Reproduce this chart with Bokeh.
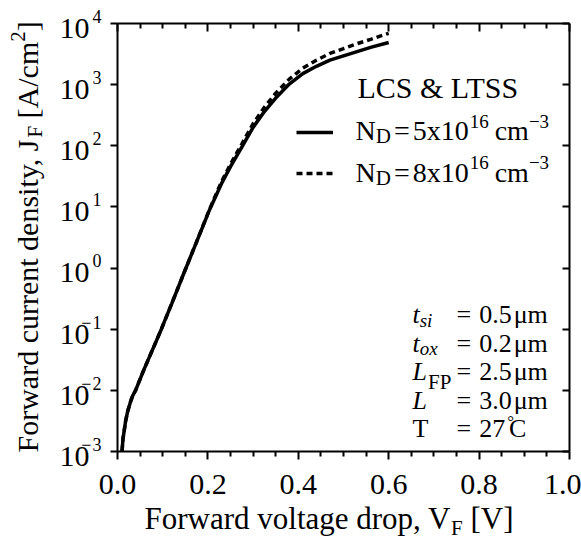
import math

from bokeh.embed import file_html
from bokeh.models import (CustomJSTickFormatter, FixedTicker, Label, Legend,
                          LegendItem, LinearAxis, LogAxis, NumeralTickFormatter,
                          Range1d)
from bokeh.plotting import figure
from bokeh.resources import INLINE

# Forward J-V characteristics, N_D = 5x10^16 cm^-3 (solid)
VF_5E16 = [0.010, 0.012, 0.018, 0.023, 0.029, 0.034, 0.040, 0.058, 0.080, 0.097,
           0.120, 0.147, 0.175, 0.204, 0.230, 0.250, 0.275, 0.300, 0.325, 0.350,
           0.380, 0.410, 0.440, 0.470, 0.500, 0.530, 0.560, 0.600]
JF_5E16 = [1.0e-3, 1.58e-3, 3.16e-3, 4.7e-3, 6.6e-3, 8.3e-3, 1.0e-2, 2.14e-2, 5.1e-2, 1.0e-1,
           2.63e-1, 8.3e-1, 2.69, 9.1, 24.0, 45.7, 95.5, 200.0, 363.0, 603.0,
           1023.0, 1514.0, 1995.0, 2512.0, 2951.0, 3467.0, 4074.0, 4898.0]

# Forward J-V characteristics, N_D = 8x10^16 cm^-3 (dotted)
VF_8E16 = [0.010, 0.012, 0.018, 0.023, 0.029, 0.034, 0.040, 0.058, 0.080, 0.097,
           0.120, 0.147, 0.175, 0.204, 0.230, 0.250, 0.275, 0.300, 0.325, 0.350,
           0.380, 0.410, 0.440, 0.470, 0.500, 0.530, 0.560, 0.600]
JF_8E16 = [1.0e-3, 1.58e-3, 3.16e-3, 4.7e-3, 6.6e-3, 8.3e-3, 1.0e-2, 2.14e-2, 5.1e-2, 1.0e-1,
           2.63e-1, 8.3e-1, 2.69, 9.3, 25.7, 50.1, 107.0, 229.0, 427.0, 724.0,
           1230.0, 1862.0, 2512.0, 3236.0, 3890.0, 4677.0, 5495.0, 6918.0]

X_TICKS = [0.0, 0.2, 0.4, 0.6, 0.8, 1.0]
X_MINOR = [0.05, 0.10, 0.15, 0.25, 0.30, 0.35, 0.45, 0.50, 0.55,
           0.65, 0.70, 0.75, 0.85, 0.90, 0.95]
Y_EXPONENTS = [-3, -2, -1, 0, 1, 2, 3, 4]
X_LIM = (0.0, 1.0)
Y_LIM = (1e-3, 1e4)

W, H = 581, 540
# pixel box of the axes inside the canvas
BOX_L, BOX_R, BOX_T, BOX_B = 117, 569, 23, 451
FONT = "Liberation Serif"
# labels are anchored a bit below the requested baseline; lift them by this
# fraction of their font size
BASELINE_LIFT = 0.34

# The canvas is one big frame; the axes sit at fixed locations around the
# data box, so every text (titles, power-of-ten labels) can live anywhere.
x_per_px = (X_LIM[1] - X_LIM[0]) / (BOX_R - BOX_L)
dec_per_px = (math.log10(Y_LIM[1]) - math.log10(Y_LIM[0])) / (BOX_B - BOX_T)
x_range = Range1d(X_LIM[0] - BOX_L * x_per_px, X_LIM[1] + (W - BOX_R) * x_per_px)
y_range = Range1d(10 ** (math.log10(Y_LIM[0]) - (H - BOX_B) * dec_per_px),
                  10 ** (math.log10(Y_LIM[1]) + BOX_T * dec_per_px))

# Advance widths (1/1000 em) of the Times-metric serif face, used to chain
# text runs with sub- and superscripts.
ADV = {' ': 250, '&': 778, ',': 250, '.': 250, '/': 278, '=': 564, '[': 333,
       ']': 333, '\u2212': 564, '\u00b0': 400, '\u03bc': 576,
       'A': 722, 'C': 667, 'D': 722, 'F': 556, 'J': 389, 'L': 611, 'N': 722,
       'P': 556, 'S': 556, 'T': 611, 'V': 722,
       'a': 444, 'c': 444, 'd': 500, 'e': 444, 'g': 500, 'i': 278, 'l': 278,
       'm': 778, 'n': 500, 'o': 500, 'p': 500, 'r': 333, 's': 389, 't': 278,
       'u': 500, 'v': 500, 'w': 722, 'x': 500, 'y': 500}
ADV_ITALIC = {'t': 278, 's': 389, 'i': 278, 'o': 500, 'x': 444, 'L': 556}


def text_width(text, size, italic=False):
    table = ADV_ITALIC if italic else ADV
    total = 0
    for ch in text:
        if ch.isdigit():
            total += 500
        else:
            total += table.get(ch, ADV.get(ch, 500))
    return total * size / 1000.0


p = figure(width=W, height=H, x_range=x_range, y_range=y_range,
           y_axis_type="log", output_backend="svg", toolbar_location=None,
           title_location=None, min_border=0)
p.outline_line_color = None
p.xgrid.visible = False
p.ygrid.visible = False
p.background_fill_color = "white"
p.border_fill_color = "white"

x_ticker = FixedTicker(ticks=X_TICKS, minor_ticks=X_MINOR)
y_ticker = FixedTicker(ticks=[10.0 ** e for e in Y_EXPONENTS], minor_ticks=[])
blank = CustomJSTickFormatter(code="return ''")


def style_axis(ax):
    ax.axis_line_width = 2
    ax.axis_line_color = "black"
    ax.major_tick_line_width = 2
    ax.major_tick_line_color = "black"
    ax.minor_tick_line_width = 2
    ax.minor_tick_line_color = "black"


# bottom axis with numeric labels
xb = p.xaxis[0]
xb.ticker = x_ticker
xb.fixed_location = Y_LIM[0]
xb.bounds = X_LIM
xb.formatter = NumeralTickFormatter(format="0.0")
style_axis(xb)
xb.major_tick_out, xb.major_tick_in = 8, 0
xb.minor_tick_out, xb.minor_tick_in = 5, 0
xb.major_label_text_font = FONT
xb.major_label_text_font_size = "30px"
xb.major_label_text_color = "black"
xb.major_label_standoff = 15

# left axis: ticks only, the power-of-ten labels are drawn below
yl = p.yaxis[0]
yl.ticker = y_ticker
yl.fixed_location = X_LIM[0]
yl.bounds = Y_LIM
yl.formatter = blank
style_axis(yl)
yl.major_tick_out, yl.major_tick_in = 7, 0
yl.minor_tick_line_color = None
yl.major_label_text_font_size = "1px"

# top and right axes close the box with inward ticks
xt = LinearAxis(ticker=x_ticker, formatter=blank, fixed_location=Y_LIM[1], bounds=X_LIM)
style_axis(xt)
xt.major_tick_in, xt.major_tick_out = 8, 0
xt.minor_tick_in, xt.minor_tick_out = 5, 0
xt.major_label_text_font_size = "1px"
p.add_layout(xt, "above")

yr = LogAxis(ticker=y_ticker, formatter=blank, fixed_location=X_LIM[1], bounds=Y_LIM)
style_axis(yr)
yr.major_tick_in, yr.major_tick_out = 7, 0
yr.minor_tick_line_color = None
yr.major_label_text_font_size = "1px"
p.add_layout(yr, "right")

# curves
r_hi = p.line(VF_8E16, JF_8E16, line_color="black", line_width=3.5, line_dash="6 4")
r_lo = p.line(VF_5E16, JF_5E16, line_color="black", line_width=3.5)


def put(text, x, y, size, italic=False, align="left", angle=0.0,
        y_units="screen", y_offset=0.0):
    lift = BASELINE_LIFT * size
    if angle == 0.0:
        y_offset += lift
    else:
        x -= lift
    p.add_layout(Label(x=x, y=y, x_units="screen", y_units=y_units, y_offset=y_offset,
                       text=text, text_font=FONT, text_font_size=f"{size}px",
                       text_font_style="italic" if italic else "normal",
                       text_color="black", text_align=align,
                       text_baseline="alphabetic", angle=angle))


def run(pieces, x0, y0, angle=0.0):
    """pieces: (text, size, rise, italic, kern) chained along the baseline."""
    pos = 0.0
    for text, size, rise, italic, kern in pieces:
        pos += kern
        if angle == 0.0:
            put(text, x0 + pos, y0 + rise, size, italic)
        else:
            put(text, x0 - rise, y0 + pos, size, italic, angle=angle)
        pos += text_width(text, size, italic)


# power-of-ten tick labels on the left axis
for e in Y_EXPONENTS:
    put("10", 89, 10.0 ** e, 30, align="right", y_units="data", y_offset=-15)
    put(str(abs(e)), 92, 10.0 ** e, 18, y_units="data", y_offset=1)
    if e < 0:
        put("\u2212", 91, 10.0 ** e, 18, align="right", y_units="data", y_offset=1)

# axis titles
run([("Forward voltage drop, V", 31, 0, False, 0),
     ("F", 21, -6, False, 0),
     ("[V]", 31, 0, False, 7.75)], 144, 11)

run([("Forward current density, J", 30, 0, False, 0),
     ("F", 21, -5, False, 0),
     ("[A/cm", 30, 0, False, 7.5),
     ("2", 21, 12, False, 0),
     ("]", 30, 0, False, 0)], 37, 88, angle=math.pi / 2)

# legend swatches
legend = Legend(items=[LegendItem(label=" ", renderers=[r_lo]),
                       LegendItem(label=" ", renderers=[r_hi])],
                location=(296, 357), orientation="vertical",
                glyph_width=37, glyph_height=20, label_height=20, label_width=0,
                label_standoff=0, spacing=21, padding=0, margin=0,
                border_line_color=None, background_fill_alpha=0,
                label_text_font_size="1px")
p.add_layout(legend)

# legend texts
put("LCS & LTSS", 357, 443, 30)
for base, dens in ((400, "5x10"), (358.5, "8x10")):
    run([("N", 28, 0, False, 0),
         ("D", 21, -3, False, 0),
         ("=", 28, 0, False, 3),
         (dens, 28, 0, False, 3),
         ("16", 19, 13, False, 1),
         ("cm", 28, 0, False, 6),
         ("\u22123", 19, 13, False, 0)], 355, base)

# device parameters
params = [
    ([("t", 26, 0, True, 0), ("si", 19, -3, True, 0)], "0.5", "\u03bcm"),
    ([("t", 26, 0, True, 0), ("ox", 19, -3, True, 0)], "0.2", "\u03bcm"),
    ([("L", 26, 0, True, 0), ("FP", 21, -9, False, 1)], "2.5", "\u03bcm"),
    ([("L", 26, 0, True, 0)], "3.0", "\u03bcm"),
    ([("T", 26, 0, False, 0)], "27", None),
]
baselines = [217, 188.5, 160, 131.5, 103]
for (sym, val, unit), yb in zip(params, baselines):
    run(sym, 412, yb)
    tail = [("=", 26, 0, False, 0), (val, 26, 0, False, 8)]
    if unit:
        tail.append((unit, 26, 0, False, 2))
    else:
        tail += [("\u00b0", 17, 10, False, 2), ("C", 26, 0, False, -5)]
    run(tail, 456, yb)

open("out.html", "w").write(file_html(p, INLINE))
